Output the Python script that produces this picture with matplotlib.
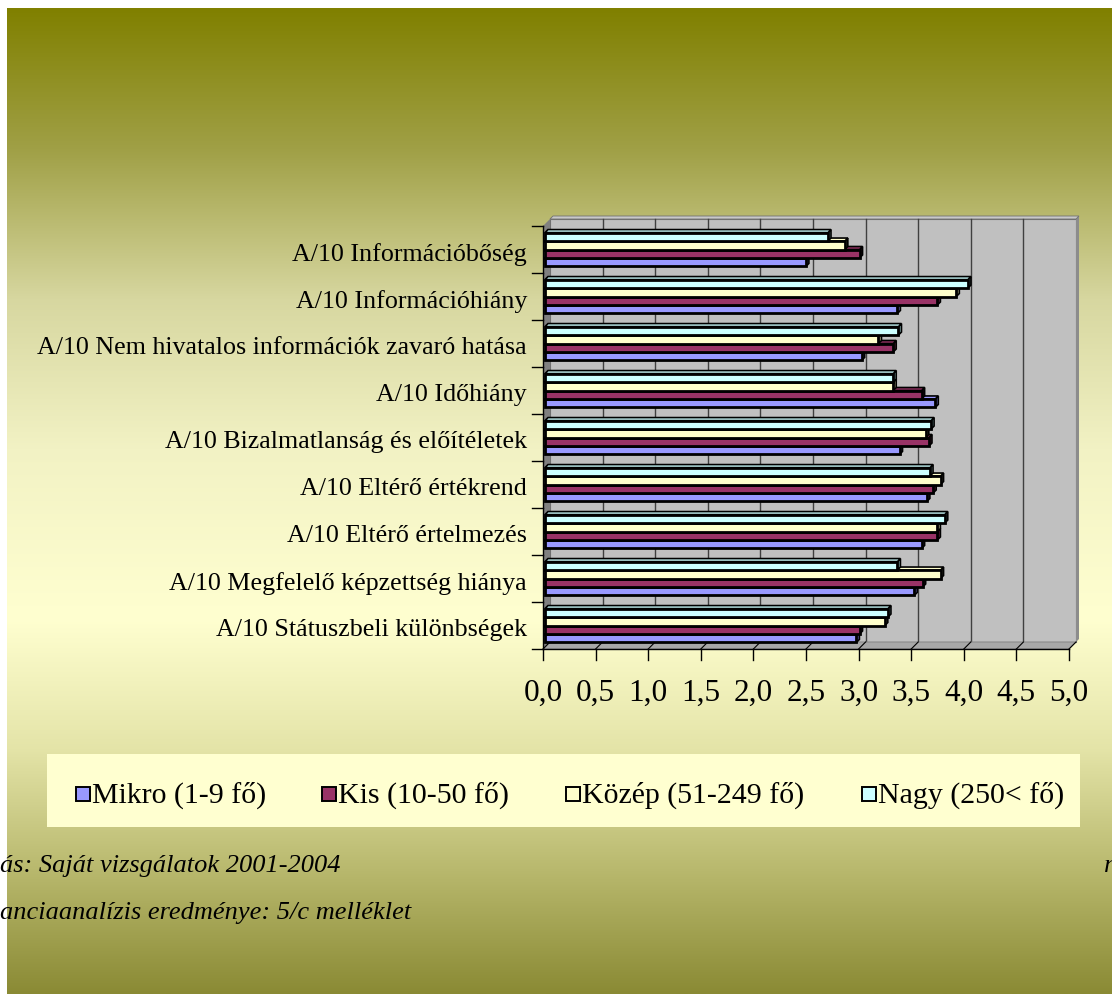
import numpy as np
import matplotlib
matplotlib.use("Agg")
import matplotlib.pyplot as plt
from matplotlib.patches import Polygon, Rectangle
from matplotlib.transforms import ScaledTranslation

plt.rcParams['font.family'] = ['Liberation Serif', 'DejaVu Serif']

# ---------------- data ----------------
categories = [
    "A/10 Státuszbeli különbségek",
    "A/10 Megfelelő képzettség hiánya",
    "A/10 Eltérő értelmezés",
    "A/10 Eltérő értékrend",
    "A/10 Bizalmatlanság és előítéletek",
    "A/10 Időhiány",
    "A/10 Nem hivatalos információk zavaró hatása",
    "A/10 Információhiány",
    "A/10 Információbőség",
]
series_names = ["Mikro (1-9 fő)", "Kis (10-50 fő)", "Közép (51-249 fő)", "Nagy (250< fő)"]
mikro = [2.96, 3.51, 3.58, 3.63, 3.37, 3.71, 3.01, 3.35, 2.48]
kis   = [2.99, 3.59, 3.73, 3.69, 3.65, 3.58, 3.31, 3.73, 2.99]
kozep = [3.23, 3.76, 3.73, 3.76, 3.62, 3.31, 3.17, 3.91, 2.85]
nagy  = [3.26, 3.35, 3.80, 3.66, 3.67, 3.31, 3.36, 4.02, 2.69]
series_values = [mikro, kis, kozep, nagy]
x_ticks = [0.0, 0.5, 1.0, 1.5, 2.0, 2.5, 3.0, 3.5, 4.0, 4.5, 5.0]
source_lines = ["ás: Saját vizsgálatok 2001-2004", "anciaanalízis eredménye: 5/c melléklet"]

colors = ["#9999FF", "#993366", "#FFFFCC", "#CCFFFF"]
side_colors = ["#6464B4", "#62203F", "#B4B48C", "#86B0B0"]

W, H = 1112, 995
fig = plt.figure(figsize=(W / 100, H / 100), dpi=100)
fig.patch.set_facecolor("white")

# ---------------- background gradient ----------------
bg = fig.add_axes([0, 0, 1, 1])
bg.set_xlim(0, W)
bg.set_ylim(H, 0)
bg.axis("off")
stops_y = [9, 150, 300, 450, 620, 750, 870, 995]
stops_c = [(128, 128, 0), (160, 160, 70), (215, 215, 160), (242, 242, 196),
           (255, 255, 208), (228, 228, 168), (185, 185, 110), (138, 138, 52)]
ys = np.arange(9, H + 1)
grad = np.zeros((len(ys), 1, 3))
for k in range(3):
    grad[:, 0, k] = np.interp(ys, stops_y, [c[k] for c in stops_c]) / 255.0
bg.imshow(grad, extent=[7, W, H, 9], aspect="auto", interpolation="bilinear", zorder=0)

# ---------------- main (pseudo-3D) axes ----------------
x0p, x1p, ytop, ybot = 543, 1069, 227, 650
ax = fig.add_axes([x0p / W, 1 - ybot / H, (x1p - x0p) / W, (ybot - ytop) / H])
ax.set_xlim(0, 5)
ax.set_ylim(-0.5, len(categories) - 0.5)
ax.axis("off")
ax.patch.set_alpha(0)

pxx = (x1p - x0p) / 5.0
pxy = (ybot - ytop) / len(categories)
D = 7
ddx, ddy = D / pxx, D / pxy
ymin, ymax = -0.5, len(categories) - 0.5

# back wall
ax.add_patch(Polygon([(ddx, ymin + ddy), (5 + ddx, ymin + ddy), (5 + ddx, ymax + ddy), (ddx, ymax + ddy)],
                     closed=True, facecolor="#C0C0C0", edgecolor="#707070", lw=0.8, zorder=1, clip_on=False))
t = 3
ax.add_patch(Polygon([(5 + ddx, ymin + ddy), (5 + ddx + t / pxx, ymin + ddy + t / pxy),
                      (5 + ddx + t / pxx, ymax + ddy + t / pxy), (5 + ddx, ymax + ddy)],
                     closed=True, facecolor="#8C8C8C", edgecolor="none", zorder=1, clip_on=False))
ax.add_patch(Polygon([(ddx, ymax + ddy), (5 + ddx, ymax + ddy), (5 + ddx + t / pxx, ymax + ddy + t / pxy),
                      (ddx + t / pxx, ymax + ddy + t / pxy)],
                     closed=True, facecolor="#C8C8C8", edgecolor="#707070", lw=0.6, zorder=1, clip_on=False))
# left wall
ax.add_patch(Polygon([(0, ymin), (ddx, ymin + ddy), (ddx, ymax + ddy), (0, ymax)],
                     closed=True, facecolor="#808080", edgecolor="none", zorder=1.5, clip_on=False))
# floor
ax.add_patch(Polygon([(0, ymin), (5, ymin), (5 + ddx, ymin + ddy), (ddx, ymin + ddy)],
                     closed=True, facecolor="#A8A8A8", edgecolor="#808080", lw=0.6, zorder=1.5, clip_on=False))
for v in x_ticks[1:-1]:
    ax.plot([v + ddx, v + ddx], [ymin + ddy, ymax + ddy], color="#404040", lw=1.0, zorder=1.2, clip_on=False)
for v in x_ticks:
    ax.plot([v, v + ddx], [ymin, ymin + ddy], color="black", lw=0.8, zorder=1.6, clip_on=False)

# bars
bar_h = 0.18
offsets = [-0.27, -0.09, 0.09, 0.27]
shift = ScaledTranslation(2 / 100, 0, fig.dpi_scale_trans)
tr = ax.transData + shift
bd = 3
bdx, bdy = bd / pxx, bd / pxy
pos = np.arange(len(categories))
for j, vals in enumerate(series_values):
    for i, v in enumerate(vals):
        y0 = pos[i] + offsets[j] - bar_h / 2
        y1 = y0 + bar_h
        ax.add_patch(Polygon([(v, y0), (v + bdx, y0 + bdy), (v + bdx, y1 + bdy), (v, y1)], closed=True,
                             facecolor=side_colors[j], edgecolor="black", lw=1.2, zorder=2, transform=tr,
                             clip_on=False))
        ax.add_patch(Polygon([(0, y1), (v, y1), (v + bdx, y1 + bdy), (bdx, y1 + bdy)], closed=True,
                             facecolor=colors[j], edgecolor="black", lw=1.2, zorder=2, transform=tr,
                             clip_on=False))
for j, vals in enumerate(series_values):
    ax.barh(pos + offsets[j], vals, height=bar_h, color=colors[j], edgecolor="black", lw=2.0,
            zorder=3, transform=tr, clip_on=False)

# axes lines and ticks
ax.plot([0, 5], [ymin, ymin], color="black", lw=1.0, zorder=4, clip_on=False)
ax.plot([0, 0], [ymin, ymax], color="black", lw=1.0, zorder=4, clip_on=False)
for v in x_ticks:
    ax.plot([v, v], [ymin, ymin - 11 / pxy], color="black", lw=1.0, zorder=4, clip_on=False)
    ax.text(v, ymin - 43 / pxy, f"{v:.1f}".replace(".", ","), ha="center", va="center",
            fontsize=22.5, zorder=5)
for b in np.arange(ymin, ymax + 0.01, 1.0):
    ax.plot([0, -11 / pxx], [b, b], color="black", lw=1.0, zorder=4, clip_on=False)
for i, c in enumerate(categories):
    ax.text(-16 / pxx, pos[i] - 0.08, c, ha="right", va="center", fontsize=18.7, zorder=5)

# ---------------- legend ----------------
def fx(px):
    return px / W

def fy(py):
    return 1 - py / H

fig.patches.append(Rectangle((fx(47), fy(828)), (1080 - 47) / W, (828 - 755) / H, transform=fig.transFigure,
                             facecolor="#FFFFD0", edgecolor="none", zorder=2))
leg_x = [76, 322, 566, 862]
for j, name in enumerate(series_names):
    fig.patches.append(Rectangle((fx(leg_x[j]), fy(802)), 14 / W, 14 / H, transform=fig.transFigure,
                                 facecolor=colors[j], edgecolor="black", lw=1.4, zorder=3))
    fig.text(fx(leg_x[j] + 16), fy(795), name, ha="left", va="center", fontsize=21.5, zorder=4)

# ---------------- source lines ----------------
fig.text(0, fy(866), source_lines[0], ha="left", va="center", fontsize=19, style="italic", zorder=4)
fig.text(fx(1104), fy(866), "r", ha="left", va="center", fontsize=19, style="italic", zorder=4)
fig.text(0, fy(913), source_lines[1], ha="left", va="center", fontsize=19, style="italic", zorder=4)

fig.savefig("out.png", dpi=100)
